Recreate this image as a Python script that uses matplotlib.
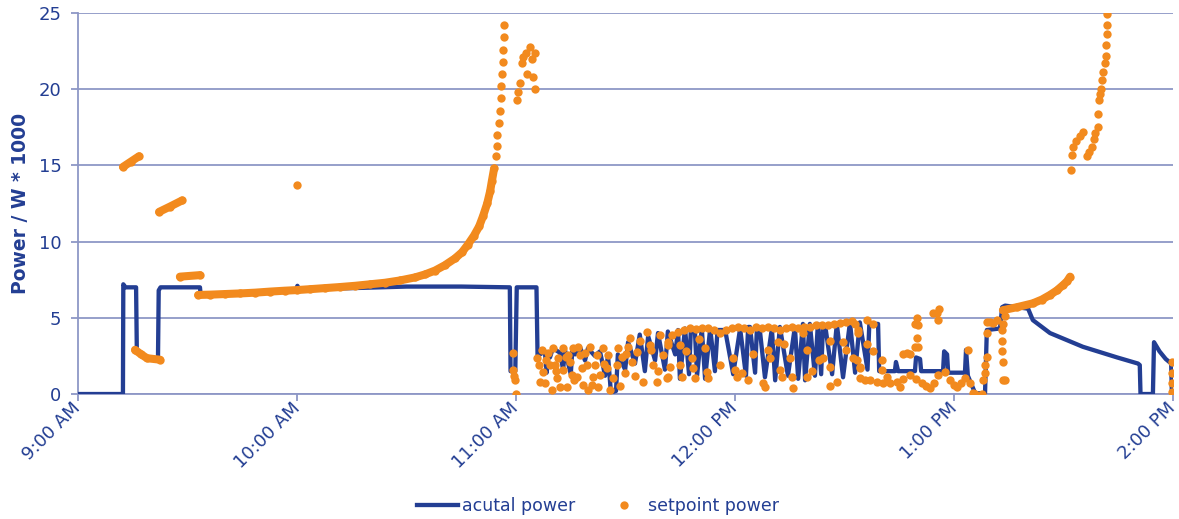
import matplotlib.pyplot as plt
import matplotlib.transforms as mtransforms
import numpy as np

# colours
blue = '#233E93'
orange = '#F28A1E'
grid_col = '#8E97C6'

# x values are minutes after 9:00 AM
tick_pos = [0, 60, 120, 180, 240, 300]
tick_lab = ['9:00 AM', '10:00 AM', '11:00 AM', '12:00 PM', '1:00 PM', '2:00 PM']

# actual power (blue line)
act_t = [0, 12.3, 12.4, 13.0, 15.9, 16.1, 17.5, 19.5, 21.9, 22.1, 22.6, 33.4, 33.6, 45, 59.8, 60.1, 60.6,
         75, 90, 105, 118.3, 118.5, 119.8, 120.2, 125.6, 125.9,
         127.9, 128.4, 128.9, 129.3, 130.1, 132.1, 132.9, 133.4, 135.0, 135.4, 136.2, 137.5, 138.9, 139.7,
         141.6, 143.0, 144.4, 145.2, 146.0, 147.4, 147.9, 149.9, 150.7, 152.6, 153.9, 155.3, 156.2, 158.1,
         158.9, 160.8, 161.6, 163.6, 164.4, 164.9, 166.3, 167.4, 167.9, 169.0, 169.6, 170.9, 171.8, 173.2,
         174.5, 175.2, 177.3, 179.5, 181.4, 183.0, 183.6, 184.1, 185.5, 186.0, 186.8, 188.2, 190.1, 191.0,
         192.3, 194.5, 196.4, 197.3, 198.6, 199.2, 200.5, 201.9, 202.7, 203.6, 204.1, 204.7, 206.6, 207.9,
         209.6, 211.5, 212.9, 214.2, 216.3, 216.8, 219.2, 219.5, 223.8, 224.1, 224.7, 229.3, 229.6, 230.7,
         231.0, 237.0, 237.3, 238.1, 238.4, 243.0, 243.3, 243.8, 245.8, 248.5, 249.0, 252.6, 253.2, 254.0,
         260.3, 261.6, 266.3, 275.3, 284.7, 290.4, 290.9, 291.1, 294.5, 294.8, 296.3, 298.0, 299.5, 299.7]
act_p = [0, 0, 7.2, 7.0, 7.0, 2.9, 2.6, 2.35, 2.3, 6.8, 7.0, 7.0, 6.5, 6.6, 6.85, 7.1, 6.85,
         6.95, 7.05, 7.05, 7.0, 1.5, 1.5, 7.0, 7.0, 2.5,
         2.8, 1.4, 2.7, 2.4, 3.0, 2.7, 1.6, 2.9, 1.3, 2.8, 2.6, 3.1, 2.2, 3.0,
         2.5, 2.8, 1.2, 2.5, 0.1, 0.2, 2.6, 1.6, 3.4, 2.0, 3.9, 1.5, 3.8, 2.2,
         4.0, 1.6, 4.1, 2.6, 4.2, 1.0, 4.3, 1.3, 4.2, 4.2, 1.2, 4.3, 1.0, 4.3,
         1.5, 4.2, 4.2, 1.3, 4.3, 1.2, 4.4, 4.4, 1.4, 4.3, 4.2, 1.1, 4.3, 0.9,
         4.4, 1.2, 4.4, 1.0, 4.6, 0.9, 4.6, 1.2, 4.6, 1.3, 4.5, 4.5, 1.3, 4.6,
         1.1, 4.7, 1.4, 4.7, 1.6, 4.6, 4.6, 1.5, 1.5, 2.1, 1.5, 1.5, 2.4, 2.3,
         1.5, 1.5, 2.8, 2.6, 1.4, 1.4, 2.9, 1.2, 0.05, 0.05, 4.2, 4.3, 5.7, 5.8,
         5.6, 4.85, 4.0, 3.1, 2.4, 2.0, 1.9, 0.0, 0.0, 3.4, 2.8, 2.3, 2.0, 0.0]

# setpoint power, dense runs (dots so close they form a band)
run1_t = [12.3, 14.5, 16.7]
run1_p = [14.9, 15.25, 15.6]
run2_t = [22.2, 25.2, 28.5]
run2_p = [11.95, 12.3, 12.7]
run3_t = [15.6, 17.3, 18.9, 22.5]
run3_p = [2.9, 2.6, 2.35, 2.25]
run4_t = [27.9, 33.4]
run4_p = [7.7, 7.8]
run5_t = [32.9, 36.2, 40.3, 44.4, 48.5, 52.6, 56.7, 60.0, 63.6, 67.7, 71.8, 75.9, 80.0, 84.1, 88.2,
          92.3, 95.1, 97.8, 100.5, 103.3, 105.2, 106.8, 108.5, 109.9, 111.0, 112.1, 112.9, 113.4, 114.0]
run5_p = [6.5, 6.52, 6.56, 6.6, 6.65, 6.72, 6.78, 6.82, 6.88, 6.95, 7.02, 7.1, 7.2, 7.3, 7.45,
          7.65, 7.85, 8.1, 8.45, 8.9, 9.3, 9.8, 10.4, 11.0, 11.7, 12.5, 13.3, 14.0, 14.8]
run6_t = [253.4, 257.3, 261.6, 264.1, 266.3, 268.2, 269.9, 271.0, 271.8]
run6_p = [5.5, 5.7, 5.95, 6.2, 6.5, 6.8, 7.15, 7.4, 7.7]

# setpoint power, single dots
sp_t = [60.0,
        114.4, 114.7, 114.9, 115.2, 115.5, 115.8, 116.0, 116.2, 116.3, 116.4, 116.6, 116.7,
        120.3, 120.5, 121.1, 121.6, 121.9, 122.7, 123.0, 123.8, 124.4, 124.7, 125.2, 125.2,
        119.2, 119.2, 119.5, 119.7, 120.0,
        125.8, 127.4, 127.9, 128.8, 129.3, 130.1, 131.2, 131.5, 132.9, 132.9, 134.0, 134.8, 135.6, 136.7,
        137.5, 138.4, 139.5, 140.3, 141.1, 142.2, 142.5, 143.8, 144.9, 145.8, 146.6, 147.7, 147.9, 149.0,
        149.9, 150.7, 151.2, 151.8, 153.2, 154.8, 155.9, 156.7, 157.5, 158.6, 159.5, 160.3, 161.4, 161.6,
        126.6, 129.9, 132.1, 135.3, 138.1, 139.7, 141.6, 143.0, 127.1, 130.7, 134.2, 137.0, 145.2,
        126.2, 128.3, 131.0, 133.6, 136.0, 139.0, 140.8, 144.0, 148.5, 150.2, 152.5, 154.0, 157.0, 159.0,
        161.6, 162.2, 161.6, 164.9, 164.9, 165.5, 168.2, 168.5, 169.0, 171.8, 172.3, 172.6, 179.5, 180.0,
        180.5, 181.9, 187.7, 188.2, 189.0, 189.6, 191.8, 192.3, 192.9, 195.1, 195.6, 195.9, 198.6, 199.7,
        199.7, 204.1, 206.0, 206.0, 206.0, 209.6, 212.3, 213.7, 214.2,
        166.5, 170.0, 176.0, 183.5, 185.0, 193.5, 201.0, 203.0, 208.0, 210.5,
        162.7, 164.4, 166.0, 167.7, 169.3, 171.0, 172.6, 174.2, 175.9, 177.5, 179.2, 180.8, 182.5, 184.1,
        185.8, 187.4, 189.0, 190.7, 192.3, 194.0, 195.6, 197.3, 198.9, 200.5, 202.2, 203.8, 205.5, 207.1,
        208.8, 210.4, 212.1,
        212.9, 213.7, 216.2, 217.8, 216.2, 217.8, 213.4, 214.2, 220.3, 220.3,
        214.2, 215.6, 217.0, 218.9, 220.5, 222.5, 224.4, 226.0, 227.9, 229.6, 231.2, 232.3, 233.4, 234.5,
        235.6, 237.5, 238.9, 240.0, 240.8, 241.9, 243.0, 244.4,
        221.6, 225.2, 226.0, 227.1, 227.9, 229.3, 229.9, 230.1, 229.3, 229.9, 230.1, 234.2, 235.9, 235.6,
        235.3, 243.8,
        245.2, 245.8, 247.7, 247.9, 248.5, 248.5, 249.0, 249.0, 249.0, 249.9, 250.7, 251.8, 253.2, 253.2,
        253.2, 253.4, 253.4, 254.0, 253.4, 254.0,
        272.1, 272.3, 272.6, 273.4, 274.5, 275.3, 276.4, 277.0, 277.8, 278.4, 278.6, 279.5, 279.5, 279.7,
        280.0, 280.3, 280.5, 280.8, 281.4, 281.6, 281.6, 281.9, 281.9, 281.9,
        299.7, 299.7, 299.7, 299.7]
sp_p = [13.7,
        15.6, 16.3, 17.0, 17.8, 18.6, 19.4, 20.2, 21.0, 21.8, 22.6, 23.4, 24.2,
        19.3, 19.8, 20.4, 21.7, 22.1, 22.4, 21.0, 22.8, 22.0, 20.8, 22.4, 20.0,
        2.7, 1.6, 1.2, 0.9, 0.0,
        2.35, 1.45, 0.7, 2.7, 1.9, 3.0, 1.05, 2.35, 3.0, 1.6, 0.45, 2.1, 3.0, 1.1,
        2.55, 0.6, 1.9, 3.1, 1.1, 2.55, 0.45, 3.0, 1.7, 0.25, 1.05, 1.9, 3.0, 2.4,
        1.4, 3.1, 3.65, 2.1, 2.75, 0.8, 4.1, 3.2, 1.9, 0.8, 3.9, 2.55, 1.05, 3.4,
        0.8, 0.25, 0.45, 1.25, 1.7, 0.25, 1.9, 1.25, 2.9, 1.9, 2.55, 3.1, 2.55,
        1.9, 2.2, 1.5, 2.4, 0.9, 2.7, 0.6, 2.0, 0.5, 2.6, 1.2, 3.5, 2.9, 1.5,
        3.2, 1.8, 1.1, 3.2, 1.9, 1.1, 2.35, 1.7, 1.05, 3.0, 1.45, 1.05, 2.35, 1.6,
        1.1, 1.4, 0.7, 0.45, 2.9, 2.35, 3.4, 1.6, 1.1, 2.35, 1.1, 0.4, 4.0, 2.9,
        1.1, 2.35, 3.5, 1.8, 0.5, 3.4, 2.35, 4.0, 1.8,
        2.8, 3.6, 1.9, 0.9, 2.6, 3.3, 1.5, 2.2, 0.8, 2.9,
        3.9, 4.1, 4.2, 4.3, 4.25, 4.35, 4.3, 4.2, 4.0, 4.2, 4.3, 4.4, 4.3, 4.2,
        4.4, 4.3, 4.4, 4.3, 4.2, 4.3, 4.4, 4.3, 4.4, 4.4, 4.5, 4.5, 4.55, 4.6,
        4.65, 4.7, 4.8,
        4.6, 4.2, 4.85, 4.6, 3.3, 2.8, 2.2, 1.7, 2.2, 1.6,
        1.05, 0.95, 0.9, 0.8, 0.7, 0.75, 0.8, 1.0, 1.25, 1.0, 0.7, 0.5, 0.4, 0.7,
        1.25, 1.45, 0.9, 0.6, 0.45, 0.7, 1.05, 0.7,
        1.1, 0.45, 2.6, 2.7, 2.6, 3.1, 3.7, 3.1, 4.6, 5.0, 4.5, 5.3, 5.6, 4.85,
        5.3, 2.9,
        0.05, 0.0, 0.0, 0.9, 1.4, 1.9, 2.4, 4.0, 4.7, 4.7, 4.65, 4.85, 4.2, 3.5,
        2.8, 2.1, 0.9, 5.1, 4.6, 0.9,
        14.7, 15.7, 16.2, 16.6, 16.9, 17.2, 15.6, 15.9, 16.2, 16.7, 17.1, 17.5, 18.4, 19.3,
        19.7, 20.0, 20.6, 21.1, 21.7, 22.2, 22.9, 23.6, 24.2, 24.9,
        2.1, 1.4, 0.7, 0.15]

fig = plt.figure(figsize=(11.79, 5.19), dpi=100)
ax = fig.add_axes([0.0662, 0.2408, 0.9287, 0.7342])

ax.plot(act_t, act_p, color=blue, lw=3.1, solid_joinstyle='round', zorder=3, label='acutal power')

# bands of setpoint dots
for rt, rp in [(run1_t, run1_p), (run2_t, run2_p), (run3_t, run3_p), (run4_t, run4_p),
               (run5_t, run5_p), (run6_t, run6_p)]:
    ax.plot(rt, rp, color=orange, lw=5.8, marker='o', ms=6, mew=0,
            solid_capstyle='round', zorder=4)
ax.plot(sp_t, sp_p, linestyle='none', marker='o', ms=6, mew=0, color=orange, zorder=4,
        label='setpoint power')

ax.set_xlim(0, 300)
ax.set_ylim(0, 25)
ax.set_yticks(np.arange(0, 26, 5))
ax.set_xticks(tick_pos)
ax.set_xticklabels(tick_lab, rotation=45, ha='right', va='center', rotation_mode='anchor')

# shift the slanted labels a little so they end at the tick
shift = mtransforms.ScaledTranslation(-6 / 72, -4 / 72, fig.dpi_scale_trans)
for lab in ax.get_xticklabels():
    lab.set_transform(lab.get_transform() + shift)

ax.grid(axis='y', color=grid_col, lw=1.3)
ax.set_axisbelow(True)
for s in ['top', 'right']:
    ax.spines[s].set_visible(False)
for s in ['left', 'bottom']:
    ax.spines[s].set_color(grid_col)
    ax.spines[s].set_linewidth(1.3)
ax.tick_params(colors=grid_col, labelcolor=blue, labelsize=13, length=5, width=1.3)
ax.tick_params(axis='y', pad=7)
ax.tick_params(axis='x', pad=3)

ax.set_ylabel('Power / W * 1000', color=blue, fontsize=13.5, fontweight='bold', labelpad=6)

fig.legend(loc='center', bbox_to_anchor=(0.507, 0.025), ncol=2, frameon=False,
           fontsize=12.5, handlelength=2.4, handletextpad=0.2, columnspacing=1.6,
           labelcolor=blue)

fig.savefig('out.png', dpi=100)
